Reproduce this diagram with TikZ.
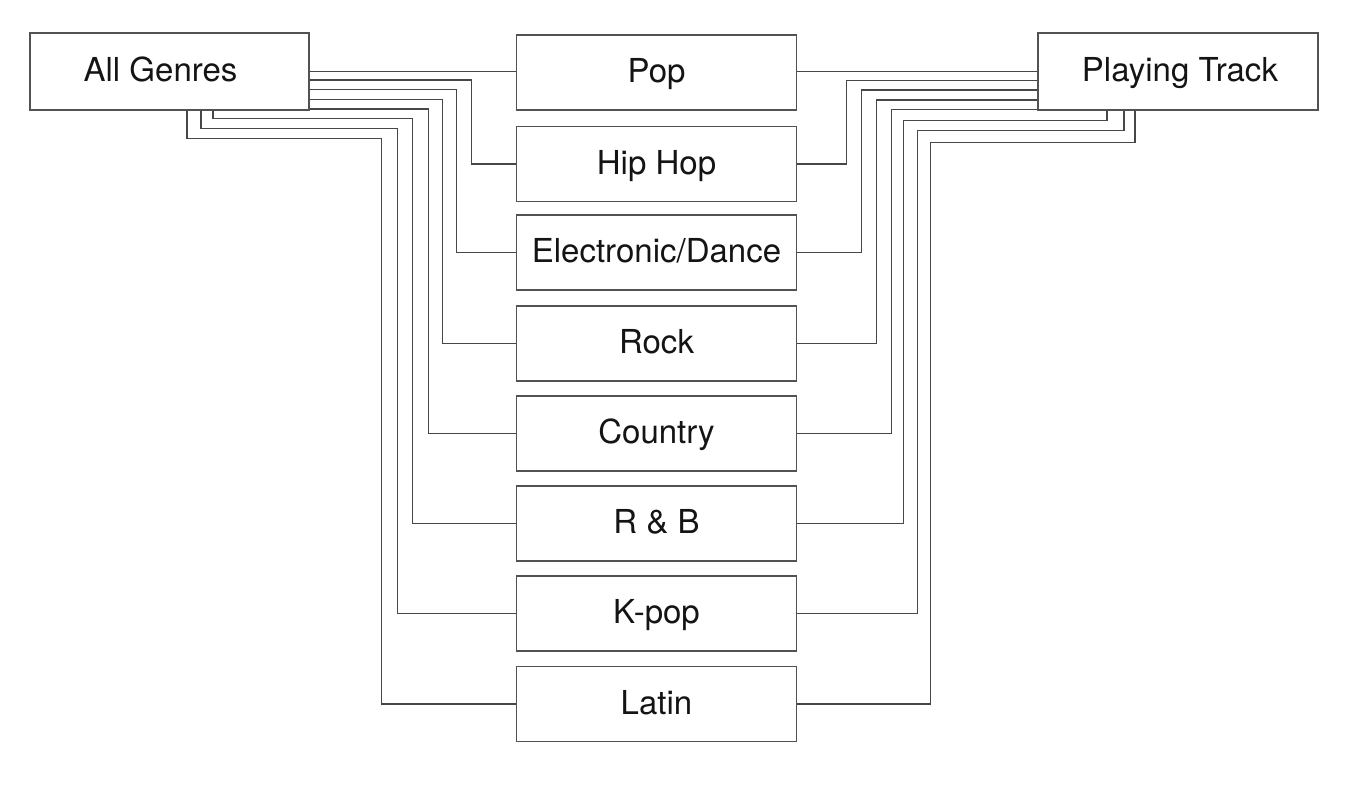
\documentclass[tikz,border=0pt]{standalone}
\usepackage{fontspec}
\setmainfont{TeX Gyre Heros}
\begin{document}
\begin{tikzpicture}[x=1pt,y=-1pt,
  box/.style={draw=black!68, line width=1.4pt, minimum width=280pt, minimum height=75pt, inner sep=0pt, text height=23.6pt, text depth=3pt, font=\fontsize{33}{39}\selectfont, text=black!92},
  wire/.style={draw=black!72, line width=1.3pt}]
\useasboundingbox (0,0) rectangle (1348,784);
\node[box, minimum width=279pt, minimum height=77pt] (AG) at (169.5,71.5) {All Genres\hspace*{18pt}};
\node[box, minimum width=280pt, minimum height=77pt] (PT) at (1178,71.5) {\hspace*{4pt}Playing Track};
\node[box] (Pop) at (656.5,72.5) {Pop};
\node[box] (Hip) at (656.5,164) {Hip Hop};
\node[box] (Elec) at (656.5,252.5) {Electronic/Dance};
\node[box] (Rock) at (656.5,343.5) {Rock};
\node[box] (Cty) at (656.5,433.5) {Country};
\node[box] (RB) at (656.5,523.5) {R \& B};
\node[box] (Kpop) at (656.5,613.5) {K-pop};
\node[box] (Lat) at (656.5,704) {Latin};
% left connectors
\draw[wire] (AG.east) -- (AG.east -| Pop.west);
\draw[wire] ([yshift=-8.5pt]AG.east) -| ([xshift=-44pt]Hip.west) -- (Hip.west);
\draw[wire] ([yshift=-18pt]AG.east) -| ([xshift=-59pt]Elec.west) -- (Elec.west);
\draw[wire] ([yshift=-28pt]AG.east) -| ([xshift=-73pt]Rock.west) -- (Rock.west);
\draw[wire] ([yshift=-37.5pt]AG.east) -| ([xshift=-87pt]Cty.west) -- (Cty.west);
\draw[wire] ([xshift=43.5pt]AG.south) -- ++(0,7.5) -| ([xshift=-103pt]RB.west) -- (RB.west);
\draw[wire] ([xshift=31.5pt]AG.south) -- ++(0,17.5) -| ([xshift=-118pt]Kpop.west) -- (Kpop.west);
\draw[wire] ([xshift=17.5pt]AG.south) -- ++(0,27.5) -| ([xshift=-134pt]Lat.west) -- (Lat.west);
% right connectors
\draw[wire] (PT.west) -- (PT.west -| Pop.east);
\draw[wire] (Hip.east) -- ++(49,0) |- ([yshift=-9pt]PT.west);
\draw[wire] (Elec.east) -- ++(64,0) |- ([yshift=-18.5pt]PT.west);
\draw[wire] (Rock.east) -- ++(79,0) |- ([yshift=-28.5pt]PT.west);
\draw[wire] (Cty.east) -- ++(94,0) |- ([yshift=-38pt]PT.west);
\draw[wire] ([xshift=-71pt]PT.south) -- ++(0,9.5) -| ([xshift=106pt]RB.east) -- (RB.east);
\draw[wire] ([xshift=-54pt]PT.south) -- ++(0,20) -| ([xshift=120pt]Kpop.east) -- (Kpop.east);
\draw[wire] ([xshift=-43pt]PT.south) -- ++(0,31.5) -| ([xshift=133pt]Lat.east) -- (Lat.east);
\end{tikzpicture}
\end{document}
